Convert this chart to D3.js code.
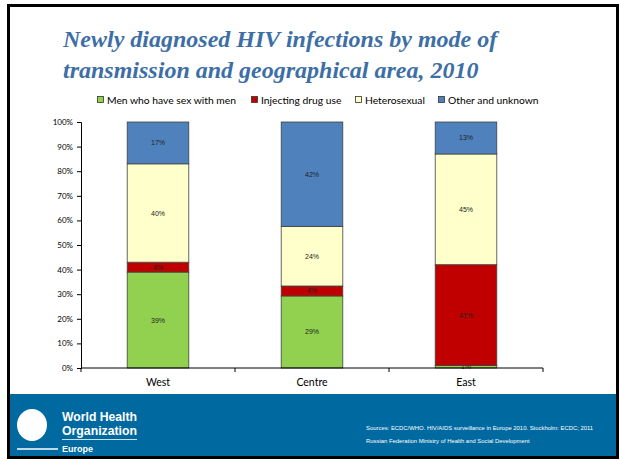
<!DOCTYPE html>
<html>
<head>
<meta charset="utf-8">
<script src="https://cdn.jsdelivr.net/npm/d3@7/dist/d3.min.js"></script>
<style>
  body { margin: 0; background: #fff; }
  svg { display: block; }
</style>
</head>
<body>
<svg id="chart" width="620" height="461"></svg>
<script>
// chart data
const areas = ['West', 'Centre', 'East'];
const modes = ['Men who have sex with men', 'Injecting drug use', 'Heterosexual', 'Other and unknown'];
const msm = [39, 29, 1];
const idu = [4, 4, 41];
const hetero = [40, 24, 45];
const other = [17, 42, 13];
const yTicks = [0, 0.1, 0.2, 0.3, 0.4, 0.5, 0.6, 0.7, 0.8, 0.9, 1];
const colors = ['#92d050', '#c00000', '#ffffcc', '#4f81bd'];
const titleLines = ['Newly diagnosed HIV infections by mode of', 'transmission and geographical area, 2010'];
const sources = ['Sources: ECDC/WHO. HIV/AIDS surveillance in Europe 2010. Stockholm: ECDC; 2011',
                 'Russian Federation Ministry of Health and Social Development'];

const svg = d3.select('#chart');

// slide frame
svg.append('rect')
  .attr('x', 8.5).attr('y', 5.5).attr('width', 609).attr('height', 452)
  .attr('fill', '#fff').attr('stroke', '#000').attr('stroke-width', 3);

// title
svg.append('g').selectAll('text')
  .data(titleLines)
  .enter()
  .append('text')
  .attr('x', 63)
  .attr('y', (d, i) => 47 + i * 31)
  .attr('font-family', '"Liberation Serif", "Times New Roman", serif')
  .attr('font-style', 'italic')
  .attr('font-weight', 'bold')
  .attr('font-size', 24)
  .attr('fill', '#3d6fa6')
  .text(d => d);

// build table rows for stacking
const rows = areas.map((a, i) => ({
  area: a,
  [modes[0]]: msm[i],
  [modes[1]]: idu[i],
  [modes[2]]: hetero[i],
  [modes[3]]: other[i]
}));
const series = d3.stack().keys(modes).offset(d3.stackOffsetExpand)(rows);

const plot = { left: 81, right: 543, top: 122, bottom: 368 };
const x = d3.scaleBand().domain(areas).range([plot.left, plot.right]).paddingInner(0.6).paddingOuter(0.3);
const y = d3.scaleLinear().domain([0, 1]).range([plot.bottom, plot.top]);

// legend
const legendX = [97, 251, 355, 438];
const legend = svg.append('g').selectAll('g')
  .data(modes)
  .enter()
  .append('g')
  .attr('transform', (d, i) => `translate(${legendX[i]},100)`);
legend.append('rect')
  .attr('x', 0.5).attr('y', -3.5).attr('width', 6).attr('height', 6)
  .attr('fill', (d, i) => colors[i])
  .attr('stroke', '#333').attr('stroke-width', 0.8);
legend.append('text')
  .attr('x', 10).attr('y', 3.5)
  .attr('font-family', 'Lato, sans-serif')
  .attr('font-size', 10.3)
  .attr('fill', '#000')
  .text(d => d);

// bars
const layer = svg.append('g').selectAll('g')
  .data(series)
  .enter()
  .append('g')
  .attr('fill', (d, i) => colors[i]);

layer.selectAll('rect')
  .data(d => d)
  .enter()
  .append('rect')
  .attr('x', d => x(d.data.area))
  .attr('y', d => y(d[1]))
  .attr('width', x.bandwidth())
  .attr('height', d => y(d[0]) - y(d[1]))
  .attr('stroke', '#404040')
  .attr('stroke-width', 0.8);

// value labels
layer.selectAll('text')
  .data(d => d.map(v => Object.assign(v, { key: d.key })))
  .enter()
  .append('text')
  .attr('x', d => x(d.data.area) + x.bandwidth() / 2)
  .attr('y', d => (y(d[0]) + y(d[1])) / 2 + 2.5)
  .attr('text-anchor', 'middle')
  .attr('font-family', '"Liberation Sans", Arial, sans-serif')
  .attr('font-size', 7)
  .attr('fill', '#222')
  .text(d => d.data[d.key] + '%');

// axes
const yAxis = svg.append('g')
  .attr('transform', `translate(${plot.left},0)`)
  .call(d3.axisLeft(y).tickValues(yTicks).tickFormat(d3.format('.0%')).tickSize(4));
yAxis.select('.domain').attr('stroke', '#000');
yAxis.selectAll('.tick line').attr('stroke', '#000');
yAxis.selectAll('text')
  .attr('font-family', 'Lato, sans-serif')
  .attr('font-size', 8)
  .attr('fill', '#000')
  .attr('dx', -1);

const xAxis = svg.append('g')
  .attr('transform', `translate(0,${plot.bottom})`);
xAxis.append('line')
  .attr('x1', plot.left).attr('x2', plot.right)
  .attr('stroke', '#000');
xAxis.selectAll('line.tk')
  .data([0, 1, 2, 3])
  .enter()
  .append('line')
  .attr('class', 'tk')
  .attr('x1', i => plot.left + i * x.step())
  .attr('x2', i => plot.left + i * x.step())
  .attr('y1', 0).attr('y2', 4)
  .attr('stroke', '#000');
xAxis.selectAll('text')
  .data(areas)
  .enter()
  .append('text')
  .attr('x', d => x(d) + x.bandwidth() / 2)
  .attr('y', 18)
  .attr('text-anchor', 'middle')
  .attr('font-family', 'Lato, sans-serif')
  .attr('font-size', 10.5)
  .attr('fill', '#000')
  .text(d => d);

// footer band
const foot = svg.append('g');
foot.append('rect')
  .attr('x', 10).attr('y', 394).attr('width', 606).attr('height', 62)
  .attr('fill', '#00699f');

// WHO emblem (simplified)
foot.append('ellipse')
  .attr('cx', 32).attr('cy', 425).attr('rx', 15).attr('ry', 16)
  .attr('fill', '#fff');
foot.append('line')
  .attr('x1', 17).attr('x2', 58).attr('y1', 449).attr('y2', 449)
  .attr('stroke', '#fff').attr('stroke-width', 1.5);

const logoText = [['World Health', 421], ['Organization', 435]];
foot.selectAll('text.logo')
  .data(logoText)
  .enter()
  .append('text')
  .attr('class', 'logo')
  .attr('x', 62).attr('y', d => d[1])
  .attr('textLength', 75)
  .attr('lengthAdjust', 'spacingAndGlyphs')
  .attr('font-family', '"Liberation Sans Narrow", "Liberation Sans", sans-serif')
  .attr('font-weight', 'bold')
  .attr('font-size', 12)
  .attr('fill', '#fff')
  .text(d => d[0]);
foot.append('line')
  .attr('x1', 62).attr('x2', 137).attr('y1', 439.5).attr('y2', 439.5)
  .attr('stroke', '#fff').attr('stroke-width', 0.8);
foot.append('text')
  .attr('x', 62).attr('y', 452)
  .attr('font-family', '"Liberation Sans Narrow", "Liberation Sans", sans-serif')
  .attr('font-weight', 'bold')
  .attr('font-size', 9)
  .attr('fill', '#fff')
  .text('Europe');

foot.selectAll('text.src')
  .data(sources)
  .enter()
  .append('text')
  .attr('class', 'src')
  .attr('x', 366)
  .attr('y', (d, i) => 430 + i * 13)
  .attr('font-family', '"Liberation Sans", Arial, sans-serif')
  .attr('font-size', 5.9)
  .attr('fill', '#fff')
  .text(d => d);
</script>
</body>
</html>
